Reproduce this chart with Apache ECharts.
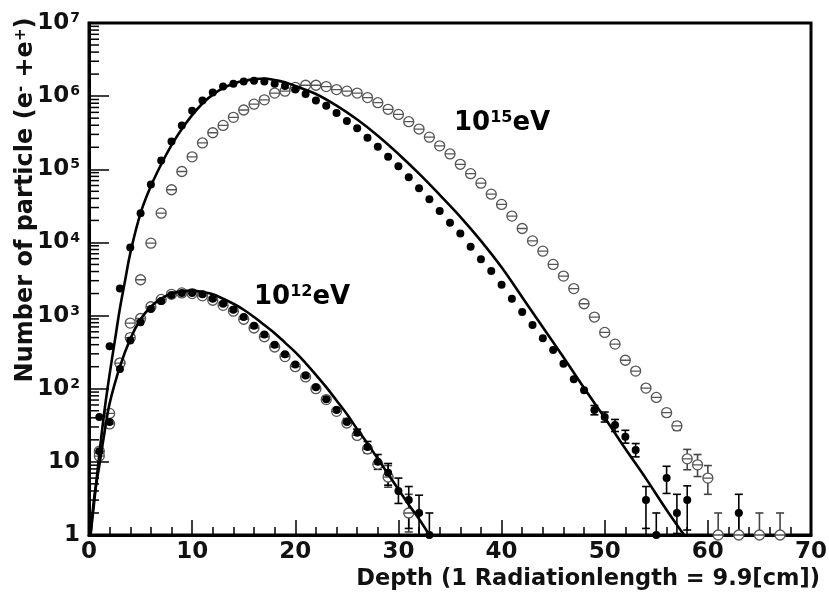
<!DOCTYPE html>
<html><head><meta charset="utf-8">
<script src="https://cdn.jsdelivr.net/npm/echarts@6/dist/echarts.min.js"></script>
<style>html,body{margin:0;padding:0;background:#fff}#c{width:829px;height:603px}</style>
</head><body><div id="c"></div>
<script>
const FONT = '"DejaVu Sans", "Liberation Sans", Arial, sans-serif';

// 10^15 eV : filled markers (depth, particles)
const filled15 = [[1,41],[2,380],[3,2340],[4,8500],[5,25100],[6,61700],[7,132000],[8,240000],[9,398000],[10,631000],
 [11,871000],[12,1120000],[13,1350000],[14,1480000],[15,1580000],[16,1620000],[17,1580000],[18,1480000],[19,1380000],[20,1230000],
 [21,1070000],[22,871000],[23,741000],[24,589000],[25,457000],[26,363000],[27,269000],[28,204000],[29,148000],[30,110000],
 [31,77600],[32,55000],[33,38900],[34,26900],[35,18600],[36,13200],[37,8710],[38,5890],[39,4070],[40,2630],
 [41,1700],[42,1120],[43,741],[44,490],[45,339],[46,219],[47,135],[48,95],[49,51],[50,41],
 [51,32],[52,22],[53,14.5],[54,3],[55,1],[56,6],[57,2],[58,3],[63,2]];
// 10^15 eV : open markers
const open15 = [[1,14],[2,33],[3,224],[4,790],[5,3090],[6,9770],[7,25100],[8,52500],[9,93300],[10,148000],
 [11,229000],[12,316000],[13,398000],[14,513000],[15,646000],[16,776000],[17,891000],[18,1100000],[19,1170000],[20,1320000],
 [21,1410000],[22,1410000],[23,1350000],[24,1230000],[25,1170000],[26,1100000],[27,955000],[28,813000],[29,661000],[30,562000],
 [31,447000],[32,355000],[33,275000],[34,209000],[35,162000],[36,117000],[37,87100],[38,64600],[39,45700],[40,33100],
 [41,22900],[42,15500],[43,10500],[44,7590],[45,5010],[46,3470],[47,2340],[48,1450],[49,955],[50,589],
 [51,407],[52,245],[53,174],[54,102],[55,76],[56,47],[57,31],[58,11],[59,9.1],[60,6.0],
 [61,1],[63,1],[65,1],[67,1]];
// 10^12 eV : filled markers
const filled12 = [[1,14],[2,35],[3,186],[4,457],[5,813],[6,1230],[7,1580],[8,1910],[9,2040],[10,2040],
 [11,1950],[12,1700],[13,1450],[14,1200],[15,955],[16,724],[17,550],[18,398],[19,295],[20,214],
 [21,151],[22,105],[23,72],[24,51],[25,35],[26,25],[27,16],[28,10],[29,7.1],[30,4.0],
 [31,3.0],[32,2.0],[33,1]];
// 10^12 eV : open markers
const open12 = [[1,12],[2,46],[3,224],[4,500],[5,912],[6,1320],[7,1660],[8,1950],[9,2040],[10,2000],
 [11,1860],[12,1620],[13,1380],[14,1150],[15,891],[16,676],[17,513],[18,372],[19,275],[20,200],
 [21,145],[22,100],[23,71],[24,49],[25,34],[26,23],[27,15],[28,9.3],[29,6.2],[31,2.0]];
// fitted curves (depth, particles)
const curve15 = [[0.15,1],[0.5,2.8],[1,12.6],[1.5,50],[2,158],[2.5,447],[3,1260],[3.5,3020],[4,7080],[5,25100],
 [6,58900],[7,117000],[8,214000],[9,355000],[10,550000],[11,794000],[12,1050000],[13,1290000],[14,1480000],[15,1620000],
 [16,1700000],[17,1740000],[18,1660000],[19,1550000],[20,1380000],[22,1070000],[24,741000],[26,479000],[28,288000],
 [30,162000],[32,87100],[34,44700],[36,22400],[38,10500],[40,4570],[42,1780],[44,692],[46,269],[48,102],
 [50,40],[52,15.1],[54,5.9],[56,2.2],[57.7,1]];
const curve12 = [[0.15,1],[0.5,3.2],[1,8.9],[1.5,25],[2,63],[3,200],[4,479],[5,891],[6,1320],[7,1700],[8,2000],
 [9,2140],[10,2190],[11,2090],[12,1950],[13,1700],[14,1450],[15,1200],[16,955],[17,741],[18,575],[19,427],
 [20,316],[21,224],[22,155],[23,105],[24,69],[25,45],[26,28],[27,17.8],[28,11],[29,6.8],[30,4.2],[31,2.6],[32,1.66],[33,1]];
// error bars [depth, low, high]
const err15Filled = [[49,44,59],[50,35,48],[51,26,38],[52,18,27],[53,11.7,17.8],[54,1.23,4.6],[55,1,2],
 [56,3.7,8.7],[57,1.05,3.6],[58,1.17,4.7],[63,1,3.6]];
const err15Open = [[56,42,52],[57,27,35],[58,7.8,14.8],[59,6.3,12.6],[60,3.6,8.9],[61,1,2],[63,1,2],[65,1,2],[67,1,2]];
const err12Filled = [[25,31,39],[26,21,28],[27,13.2,19],[28,7.9,12.6],[29,4.8,9.5],[30,2.7,6.0],[31,1.23,4.6],[32,1,3.5],[33,1,2]];
const err12Open = [[29,4.5,8.9],[31,1.1,3.6]];
// axis ticks
const xTickStep = 10;
const yDecades = [1,10,100,1000,10000,100000,1000000];
const yMinorSteps = [2,3,4,5,6,7,8,9];

const yMinor = [];
yDecades.forEach(d => yMinorSteps.forEach(m => yMinor.push([0, d * m])));

function errRender(color) {
  return function (params, api) {
    const x = api.value(0);
    const p1 = api.coord([x, api.value(1)]);
    const p2 = api.coord([x, api.value(2)]);
    const w = 4;
    const st = { stroke: color, lineWidth: 1.6 };
    return { type: 'group', children: [
      { type: 'line', shape: { x1: p1[0], y1: p1[1], x2: p2[0], y2: p2[1] }, style: st },
      { type: 'line', shape: { x1: p1[0] - w, y1: p1[1], x2: p1[0] + w, y2: p1[1] }, style: st },
      { type: 'line', shape: { x1: p2[0] - w, y1: p2[1], x2: p2[0] + w, y2: p2[1] }, style: st }
    ]};
  };
}

const openSymbol = 'path://M0 5A5 5 0 1 0 10 5A5 5 0 1 0 0 5ZM0 5L10 5';
const labelRich = {
  b: { fontFamily: FONT, fontWeight: 'bold', fontSize: 23, color: '#111' },
  s: { fontFamily: FONT, fontWeight: 'bold', fontSize: 14, color: '#111', verticalAlign: 'top', padding: [0, 0, 0, 1] }
};
const annoRich = {
  b: { fontFamily: FONT, fontWeight: 'bold', fontSize: 26, color: '#000', fill: '#000' },
  s: { fontFamily: FONT, fontWeight: 'bold', fontSize: 16, color: '#000', fill: '#000', verticalAlign: 'top' }
};

const chart = echarts.init(document.getElementById('c'));
chart.setOption({
  animation: false,
  backgroundColor: '#fff',
  grid: { left: 89, right: 18, top: 23, bottom: 68, show: true, borderColor: '#000', borderWidth: 3,
          containLabel: false, outerBoundsMode: 'none' },
  xAxis: {
    type: 'value', min: 0, max: 70, interval: xTickStep,
    axisLine: { show: true, lineStyle: { color: '#000', width: 3 } },
    axisTick: { show: true, inside: true, length: 15, lineStyle: { color: '#000', width: 1.5 } },
    minorTick: { show: true, splitNumber: 5, length: 8, lineStyle: { color: '#000', width: 1.5 } },
    splitLine: { show: false },
    axisLabel: { margin: 6, color: '#111', fontFamily: FONT, fontWeight: 'bold', fontSize: 23, showMinLabel: true, showMaxLabel: true }
  },
  yAxis: {
    type: 'log', logBase: 10, min: 1, max: 10000000, splitNumber: 7,
    axisLine: { show: true, lineStyle: { color: '#000', width: 3 } },
    axisTick: { show: true, inside: true, length: 20, lineStyle: { color: '#000', width: 1.5 } },
    splitLine: { show: false },
    axisLabel: {
      margin: 9, showMinLabel: true, showMaxLabel: true,
      formatter: function (v) {
        const e = Math.round(Math.log10(v));
        if (e === 0) return '{b|1}';
        if (e === 1) return '{b|10}';
        return '{b|10}{s|' + e + '}';
      },
      rich: labelRich
    }
  },
  graphic: [
    { type: 'text', right: 9, top: 568, style: { text: 'Depth (1 Radiationlength = 9.9[cm])', fill: '#111',
      font: 'bold 22.5px ' + FONT } },
    { type: 'text', x: 26, y: 200, rotation: Math.PI / 2, style: {
      text: '{t|Number of particle (e}{s|-}{t| +e}{s|+}{t|)}', align: 'center', verticalAlign: 'middle',
      rich: { t: { fontFamily: FONT, fontWeight: 'bold', fontSize: 24, fill: '#111', color: '#111' },
              s: { fontFamily: FONT, fontWeight: 'bold', fontSize: 15, fill: '#111', color: '#111', verticalAlign: 'top' } } } },
    { type: 'text', x: 454, y: 123, style: { text: '{b|10}{s|15}{b|eV}', verticalAlign: 'middle', rich: annoRich } },
    { type: 'text', x: 254, y: 297, style: { text: '{b|10}{s|12}{b|eV}', verticalAlign: 'middle', rich: annoRich } }
  ],
  series: [
    { type: 'custom', name: 'yMinor', data: yMinor, z: 5, silent: true,
      renderItem: function (params, api) {
        const p = api.coord([0, api.value(1)]);
        return { type: 'line', shape: { x1: p[0], y1: p[1], x2: p[0] + 10, y2: p[1] }, style: { stroke: '#000', lineWidth: 1.5 } };
      } },
    { type: 'custom', data: err15Open, renderItem: errRender('#444'), encode: { x: 0, y: [1, 2] }, z: 2 },
    { type: 'custom', data: err12Open, renderItem: errRender('#444'), encode: { x: 0, y: [1, 2] }, z: 2 },
    { type: 'custom', data: err15Filled, renderItem: errRender('#000'), encode: { x: 0, y: [1, 2] }, z: 2 },
    { type: 'custom', data: err12Filled, renderItem: errRender('#000'), encode: { x: 0, y: [1, 2] }, z: 2 },
    { type: 'scatter', data: open15, symbol: openSymbol, symbolSize: 10, z: 3,
      itemStyle: { color: '#fff', borderColor: '#555', borderWidth: 1.3, opacity: 1 } },
    { type: 'scatter', data: open12, symbol: openSymbol, symbolSize: 10, z: 3,
      itemStyle: { color: '#fff', borderColor: '#555', borderWidth: 1.3, opacity: 1 } },
    { type: 'scatter', data: filled15, symbol: 'circle', symbolSize: 8, z: 4, itemStyle: { color: '#000', opacity: 1 } },
    { type: 'scatter', data: filled12, symbol: 'circle', symbolSize: 8, z: 4, itemStyle: { color: '#000', opacity: 1 } },
    { type: 'line', data: curve15, showSymbol: false, smooth: 0.4, z: 5, lineStyle: { color: '#000', width: 2.6 } },
    { type: 'line', data: curve12, showSymbol: false, smooth: 0.4, z: 5, lineStyle: { color: '#000', width: 2.6 } }
  ]
});
</script>
</body></html>
